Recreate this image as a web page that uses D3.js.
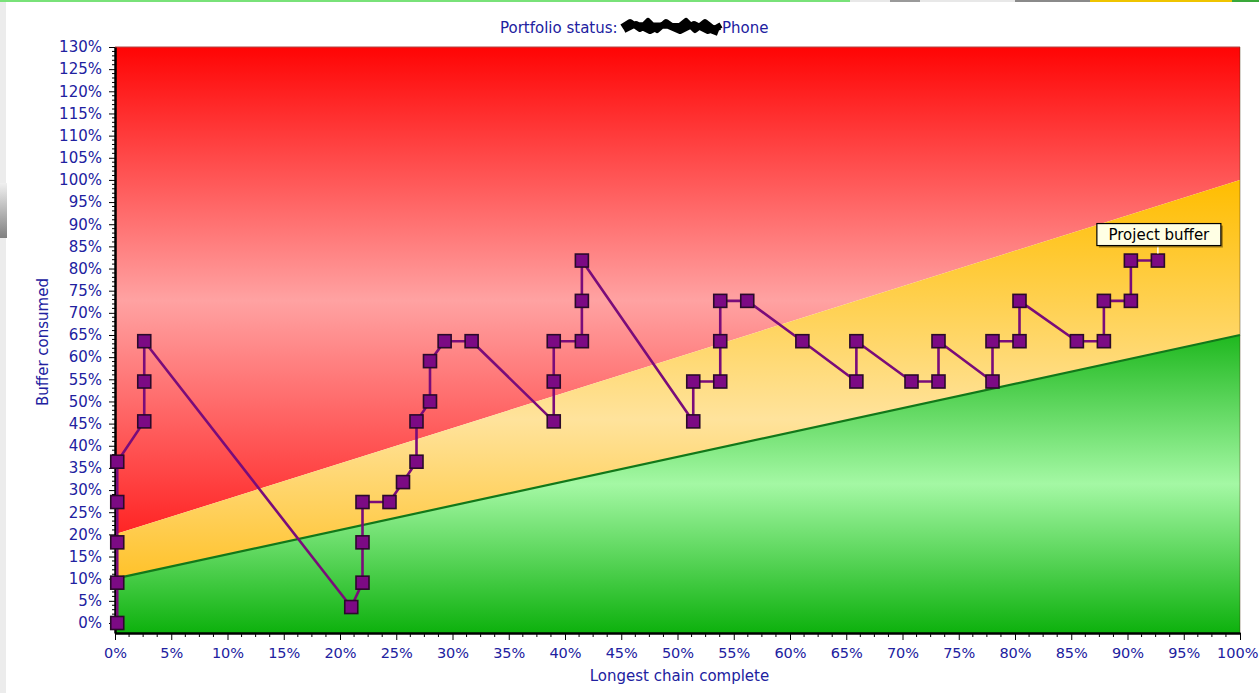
<!DOCTYPE html>
<html>
<head>
<meta charset="utf-8">
<script src="https://cdn.jsdelivr.net/npm/d3@7"></script>
<style>
  html, body { margin: 0; padding: 0; background: #ffffff; }
  svg { display: block; }
  text { font-family: "DejaVu Sans", Verdana, sans-serif; }
</style>
</head>
<body>
<svg id="chart" width="1259" height="693"></svg>
<script>
// ---------- data ----------
const titleText = "Portfolio status: ";
const titleTail = "Phone";
const xAxisTitle = "Longest chain complete";
const yAxisTitle = "Buffer consumed";
const labelText = "Project buffer";

const xTickValues = [0,5,10,15,20,25,30,35,40,45,50,55,60,65,70,75,80,85,90,95,100];
const yTickValues = [0,5,10,15,20,25,30,35,40,45,50,55,60,65,70,75,80,85,90,95,100,105,110,115,120,125,130];

// zone boundaries (x from 0% to 100%)
const zoneX = [0, 100];
const upperLine = [20, 100];  // red / yellow border
const lowerLine = [10, 65];   // yellow / green border

// fever chart trail
const progress = [0.2,0.2,0.2,0.2,0.2,2.6,2.6,2.6,21.0,22.0,22.0,22.0,24.4,25.6,26.8,26.8,28.0,28.0,29.3,31.7,
                  39.0,39.0,39.0,41.5,41.5,41.5,51.4,51.4,53.8,53.8,53.8,56.2,61.1,65.9,65.9,70.8,73.2,73.2,
                  78.0,78.0,80.4,80.4,85.5,87.9,87.9,90.3,90.3,92.7];
const consumed = [0,9.1,18.2,27.3,36.4,45.5,54.5,63.6,3.6,9.1,18.2,27.3,27.3,31.8,36.4,45.5,50.0,59.1,63.6,63.6,
                  45.5,54.5,63.6,63.6,72.7,81.8,45.5,54.5,54.5,63.6,72.7,72.7,63.6,54.5,63.6,54.5,54.5,63.6,
                  54.5,63.6,63.6,72.7,63.6,63.6,72.7,72.7,81.8,81.8];

// ---------- layout ----------
const svg = d3.select("#chart");
const pLeft = 115, pRight = 1240, pTop = 47, pBottom = 633;
const x = d3.scaleLinear().domain([0, 100]).range([pLeft, pRight]);
const y = d3.scaleLinear().domain([-2.26, 130]).range([pBottom, pTop]);
const yMin = y.domain()[0], yMax = y.domain()[1];
const textColor = "#2121a0";

// screenshot frame bits
svg.append("rect").attr("x", 0).attr("y", 0).attr("width", 1259).attr("height", 693).attr("fill", "#ffffff");
svg.append("rect").attr("x", 0).attr("y", 0).attr("width", 6).attr("height", 693).attr("fill", "#ececec");
const defs = svg.append("defs");
const sideGrad = defs.append("linearGradient").attr("id", "sideG").attr("x1",0).attr("y1",0).attr("x2",0).attr("y2",1);
sideGrad.append("stop").attr("offset", 0).attr("stop-color", "#f0f0f0");
sideGrad.append("stop").attr("offset", 1).attr("stop-color", "#808080");
svg.append("rect").attr("x", 0).attr("y", 183).attr("width", 7).attr("height", 55).attr("fill", "url(#sideG)");
const topStrip = [
  {x0: 0, x1: 850, c: "#79e279"}, {x0: 850, x1: 890, c: "#e8e8e8"}, {x0: 890, x1: 920, c: "#9a9a9a"},
  {x0: 920, x1: 1015, c: "#e8e8e8"}, {x0: 1015, x1: 1090, c: "#8a8a8a"}, {x0: 1090, x1: 1232, c: "#efc400"},
  {x0: 1232, x1: 1259, c: "#3aa83a"}
];
svg.selectAll("rect.strip").data(topStrip).enter().append("rect").attr("class", "strip")
  .attr("x", d => d.x0).attr("y", 0).attr("width", d => d.x1 - d.x0).attr("height", 2).attr("fill", d => d.c);

// ---------- gradients ----------
function grad(id, stops) {
  const g = defs.append("linearGradient").attr("id", id).attr("x1", 0).attr("y1", 0).attr("x2", 0).attr("y2", 1);
  stops.forEach(s => g.append("stop").attr("offset", s[0]).attr("stop-color", s[1]));
}
grad("redG", [[0, "#ff0404"], [0.52, "#ffa2a2"], [1, "#ff2424"]]);
grad("yelG", [[0, "#ffbd00"], [0.6, "#ffe39c"], [1, "#ffc22a"]]);
grad("grnG", [[0, "#1fb81f"], [0.5, "#a4f8a4"], [1, "#0db10d"]]);

const area = d3.line().x(d => x(d[0])).y(d => y(d[1]));
const redPoly = [[zoneX[0], upperLine[0]], [zoneX[1], upperLine[1]], [zoneX[1], yMax], [zoneX[0], yMax]];
const yelPoly = [[zoneX[0], lowerLine[0]], [zoneX[1], lowerLine[1]], [zoneX[1], upperLine[1]], [zoneX[0], upperLine[0]]];
const grnPoly = [[zoneX[0], yMin], [zoneX[1], yMin], [zoneX[1], lowerLine[1]], [zoneX[0], lowerLine[0]]];

svg.append("path").attr("d", area(redPoly) + "Z").attr("fill", "url(#redG)");
svg.append("path").attr("d", area(yelPoly) + "Z").attr("fill", "url(#yelG)");
svg.append("path").attr("d", area(grnPoly) + "Z").attr("fill", "url(#grnG)");

// plot border top/right
svg.append("line").attr("x1", x(0)).attr("x2", x(100)).attr("y1", y(yMax)).attr("y2", y(yMax))
  .attr("stroke", "#b04848").attr("stroke-width", 1.2);
svg.append("line").attr("x1", x(100)).attr("x2", x(100)).attr("y1", y(yMax)).attr("y2", y(yMin))
  .attr("stroke", "rgba(60,40,0,0.35)").attr("stroke-width", 1.2);

// lower border line (dark green)
svg.append("path").attr("d", area(zoneX.map((v, i) => [v, lowerLine[i]])))
  .attr("stroke", "#12781a").attr("stroke-width", 2.2).attr("fill", "none");

// ---------- axes ----------
const yMinor = d3.range(0, 131, 1).filter(v => v % 5 !== 0);
svg.selectAll("line.ymin").data(yMinor).enter().append("line")
  .attr("x1", x(0) - 3).attr("x2", x(0)).attr("y1", d => y(d)).attr("y2", d => y(d))
  .attr("stroke", "#000").attr("stroke-width", 1);
const xMinor = d3.range(0, 100.01, 1.25).filter(v => v % 5 !== 0);
svg.selectAll("line.xmin").data(xMinor).enter().append("line")
  .attr("x1", d => x(d)).attr("x2", d => x(d)).attr("y1", y(yMin)).attr("y2", y(yMin) + 4)
  .attr("stroke", "#000").attr("stroke-width", 1);

const yAxis = svg.append("g").attr("transform", `translate(${x(0)},0)`)
  .call(d3.axisLeft(y).tickValues(yTickValues).tickFormat(d => d + "%").tickSize(6).tickPadding(7).tickSizeOuter(0));
const xAxis = svg.append("g").attr("transform", `translate(0,${y(yMin)})`)
  .call(d3.axisBottom(x).tickValues(xTickValues).tickFormat(d => d + "%").tickSize(7).tickPadding(8).tickSizeOuter(0));
[yAxis, xAxis].forEach(a => {
  a.select(".domain").attr("stroke", "#000").attr("stroke-width", 2.5);
  a.selectAll(".tick line").attr("stroke", "#000").attr("stroke-width", 1);
  a.selectAll("text").attr("fill", textColor).attr("font-family", "DejaVu Sans");
});
yAxis.selectAll("text").attr("font-size", 15);
xAxis.selectAll("text").attr("font-size", 14.5);
// keep the last x label inside the window
xAxis.selectAll(".tick").filter(d => d === 100).select("text").attr("text-anchor", "end").attr("dx", 18);

// axis titles
svg.append("text").attr("x", (pLeft + pRight) / 2 + 2).attr("y", 681).attr("text-anchor", "middle")
  .attr("fill", textColor).attr("font-size", 15).text(xAxisTitle);
svg.append("text").attr("transform", `translate(48,${(pTop + pBottom) / 2 + 2}) rotate(-90)`).attr("text-anchor", "middle")
  .attr("fill", textColor).attr("font-size", 15).text(yAxisTitle);

// title
svg.append("text").attr("x", 500).attr("y", 33).attr("fill", textColor).attr("font-size", 15).text(titleText);
svg.append("path")
  .attr("d", "M622,27 L630,22 L640,29 L648,21 L657,30 L666,22 L676,29 L686,21 L695,30 L705,22 L714,29 L721,25 M624,30 L636,24 L650,31 L664,24 L680,31 L694,24 L708,31 L720,27 M626,25 L700,26 L718,33")
  .attr("stroke", "#000").attr("stroke-width", 6).attr("fill", "none").attr("stroke-linejoin", "round");
svg.append("text").attr("x", 722).attr("y", 33).attr("fill", textColor).attr("font-size", 15).text(titleTail);

// ---------- trail ----------
const pts = progress.map((p, i) => [p, consumed[i]]);
svg.append("path").attr("d", area(pts)).attr("fill", "none")
  .attr("stroke", "#7a0c7a").attr("stroke-width", 2.6).attr("stroke-linejoin", "round");
const ms = 13;
svg.selectAll("rect.mk").data(pts).enter().append("rect").attr("class", "mk")
  .attr("x", d => x(d[0]) - ms / 2).attr("y", d => y(d[1]) - ms / 2)
  .attr("width", ms).attr("height", ms)
  .attr("fill", "#7c0a84").attr("stroke", "#2a0a2a").attr("stroke-width", 1.6);

// ---------- label ----------
const last = pts[pts.length - 1];
const lx = x(last[0]), ly = y(last[1]);
svg.append("line").attr("x1", lx).attr("x2", lx).attr("y1", ly - 14).attr("y2", ly - 7)
  .attr("stroke", "#ffffff").attr("stroke-width", 1.5);
const bx = lx - 61, by = ly - 37, bw = 124, bh = 22;
svg.append("rect").attr("x", bx + 2).attr("y", by + 2).attr("width", bw).attr("height", bh).attr("fill", "rgba(60,40,0,0.45)");
svg.append("rect").attr("x", bx).attr("y", by).attr("width", bw).attr("height", bh)
  .attr("fill", "#ffffe4").attr("stroke", "#000").attr("stroke-width", 1.2);
svg.append("text").attr("x", bx + bw / 2).attr("y", by + 16).attr("text-anchor", "middle")
  .attr("font-size", 15).attr("fill", "#000").text(labelText);
</script>
</body>
</html>
